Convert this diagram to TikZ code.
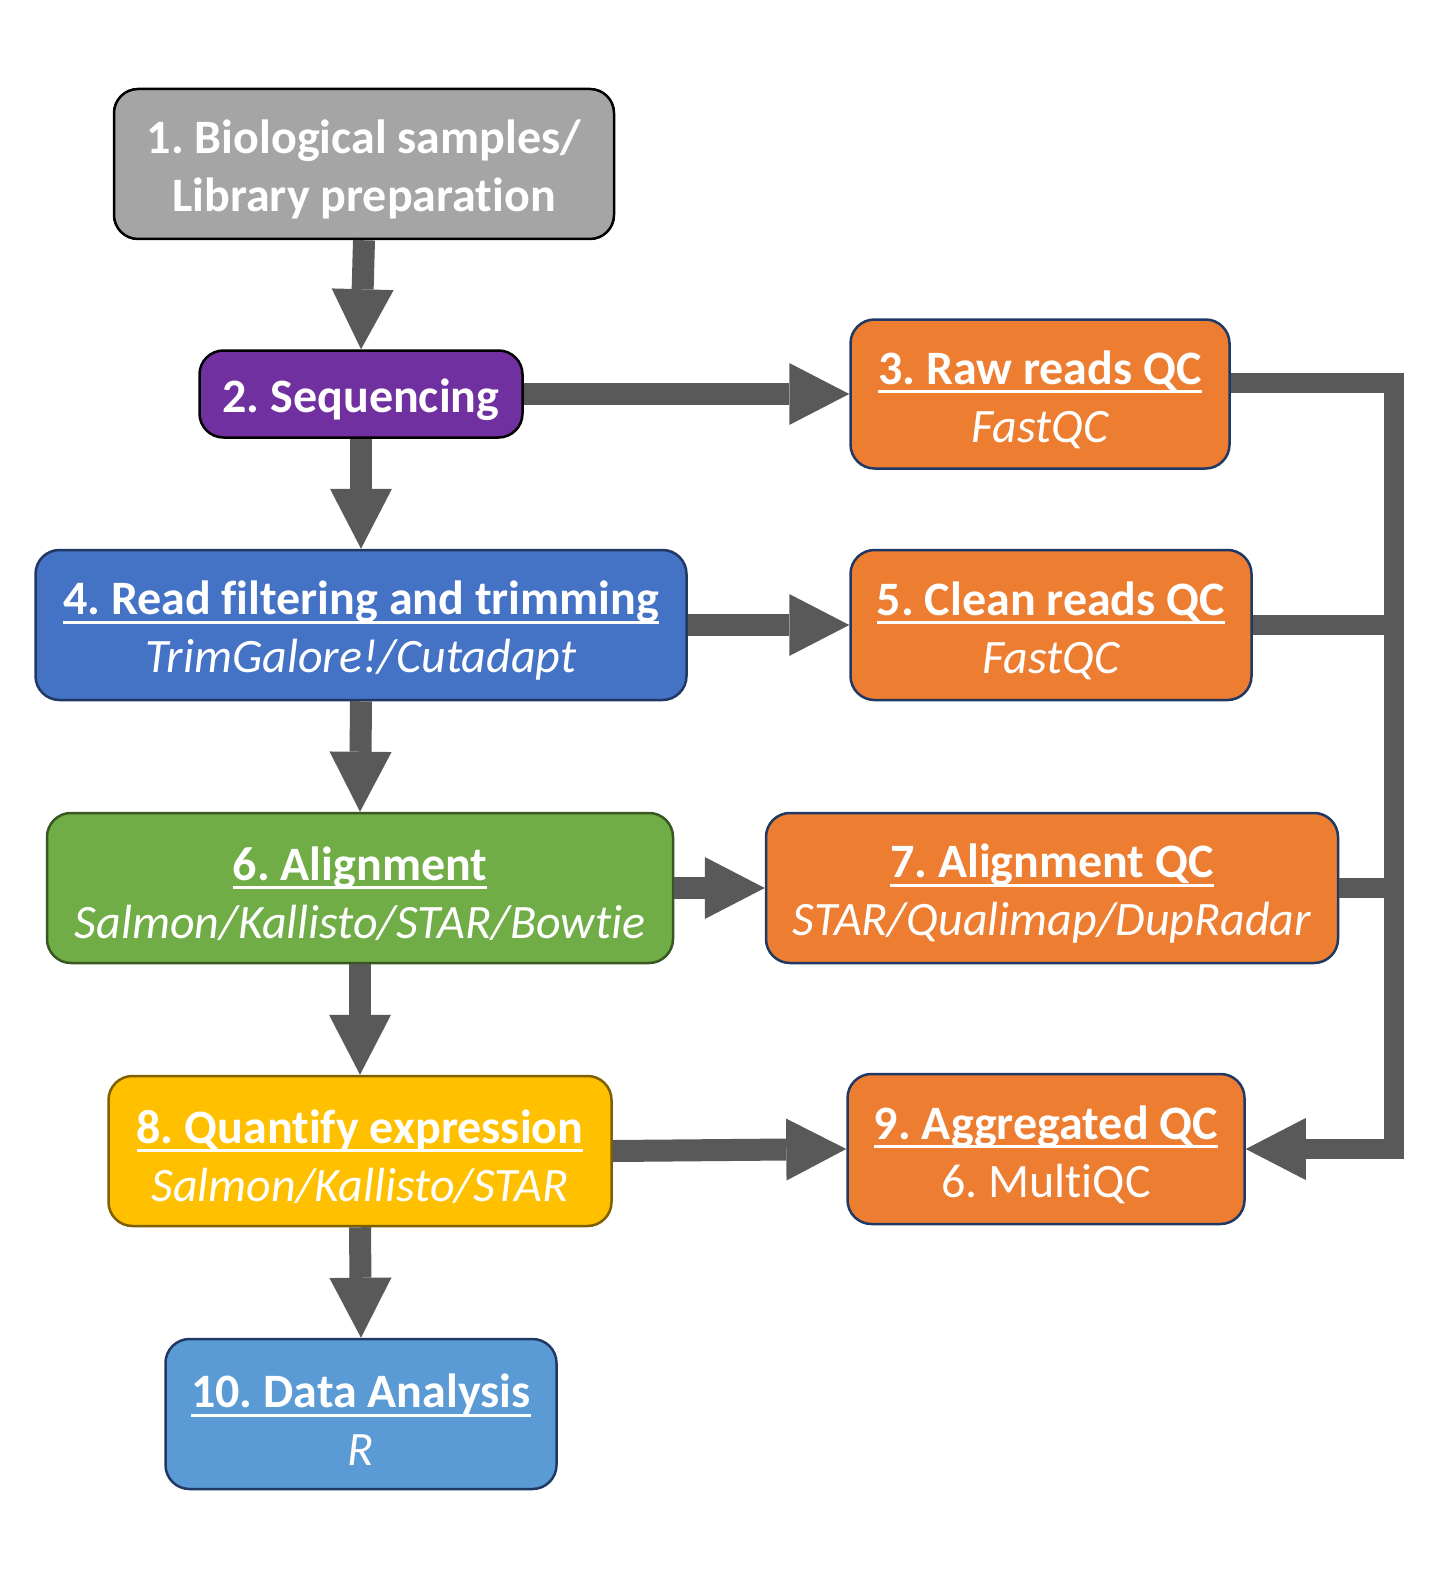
\documentclass[tikz,border=0pt]{standalone}
\usepackage{fontspec}
\setmainfont{Carlito}[Ligatures={NoCommon}]
\usetikzlibrary{arrows.meta,calc}
\definecolor{cgray}{HTML}{A5A5A5}
\definecolor{cpurple}{HTML}{7030A0}
\definecolor{corange}{HTML}{ED7D31}
\definecolor{cblue}{HTML}{4472C4}
\definecolor{cgreen}{HTML}{70AD47}
\definecolor{cyellow}{HTML}{FFC000}
\definecolor{clblue}{HTML}{5B9BD5}
\definecolor{cnavy}{HTML}{1F3864}
\definecolor{cdgreen}{HTML}{385723}
\definecolor{cbrown}{HTML}{7F6000}
\definecolor{carrow}{HTML}{595959}
\frenchspacing
\newcommand\ulx[1]{\setbox0\hbox{#1}\rlap{\rule[-9pt]{\wd0}{3pt}}\box0}
\newcommand\tp{\rule{0pt}{45pt}}
\tikzset{
  box/.style={rectangle, rounded corners=24pt, line width=2.5pt, text=white,
    align=center, font=\fontsize{48}{58}\selectfont\frenchspacing, inner sep=0pt},
  bigarrow/.style={draw=carrow, line width=22pt,
    -{Triangle[length=60pt,width=62pt,line width=0pt]}, fill=carrow},
  collector/.style={draw=carrow, line width=20pt, line join=miter},
}
\begin{document}
\begin{tikzpicture}[x=1pt,y=-1pt]
\useasboundingbox (0,0) rectangle (1440,1578);
\node[box, fill=cgray, draw=black, minimum width=500pt, minimum height=150pt] (n1) at (364,164)
  {\tp\bfseries 1. Biological samples/\\\bfseries Library preparation};
\node[box, fill=cpurple, draw=black, minimum width=323pt, minimum height=87pt] (n2) at (361,394)
  {\tp\bfseries 2. Sequencing};
\node[box, fill=corange, draw=cnavy, minimum width=379pt, minimum height=149pt] (n3) at (1040,394)
  {\tp{\bfseries\ulx{3. Raw reads QC}}\\{\itshape FastQC}};
\node[box, fill=cblue, draw=cnavy, minimum width=651pt, minimum height=150pt] (n4) at (361,625)
  {\tp{\bfseries\ulx{4. Read filtering and trimming}}\\{\itshape TrimGalore!/Cutadapt}};
\node[box, fill=corange, draw=cnavy, minimum width=401pt, minimum height=150pt] (n5) at (1051,625)
  {\tp{\bfseries\ulx{5. Clean reads QC}}\\{\itshape FastQC}};
\node[box, fill=cgreen, draw=cdgreen, minimum width=626pt, minimum height=150pt] (n6) at (360,888)
  {\tp{\bfseries\ulx{6. Alignment}}\\{\itshape Salmon/Kallisto/STAR/Bowtie}};
\node[box, fill=corange, draw=cnavy, minimum width=572pt, minimum height=150pt] (n7) at (1052,888)
  {\tp{\bfseries\ulx{7. Alignment QC}}\\{\itshape STAR/Qualimap/DupRadar}};
\node[box, fill=cyellow, draw=cbrown, minimum width=503pt, minimum height=150pt] (n8) at (360,1151)
  {\tp{\bfseries\ulx{8. Quantify expression}}\\{\itshape Salmon/Kallisto/STAR}};
\node[box, fill=corange, draw=cnavy, minimum width=397pt, minimum height=150pt] (n9) at (1046,1149)
  {\tp{\bfseries\ulx{9. Aggregated QC}}\\6. MultiQC};
\node[box, fill=clblue, draw=cnavy, minimum width=391pt, minimum height=150pt] (n10) at (361,1414)
  {\tp{\bfseries\ulx{10. Data Analysis}}\\{\itshape R}};
% main flow arrows
\draw[bigarrow] (n1.south) -- (n2.north);
\draw[bigarrow] (n2.south) -- (n4.north);
\draw[bigarrow] (n4.south) -- (n6.north);
\draw[bigarrow] (n6.south) -- (n8.north);
\draw[bigarrow] (n8.south) -- (n10.north);
\draw[bigarrow] (n2.east) -- (n3.west);
\draw[bigarrow] (n4.east) -- (n5.west);
\draw[bigarrow] (n6.east) -- (n7.west);
\draw[bigarrow] (n8.east) -- (n9.west);
% QC collector
\coordinate (cx) at (1394,1149);
\draw[collector] ($(n3.east)+(0,-11)$) -| (cx);
\draw[collector] (n5.east) -- (n5.east -| cx);
\draw[collector] (n7.east) -- (n7.east -| cx);
\draw[collector] ($(cx)+(10,0)$) -- (cx);
\draw[bigarrow, line width=20pt] (cx) -- (n9.east);
\end{tikzpicture}
\end{document}
